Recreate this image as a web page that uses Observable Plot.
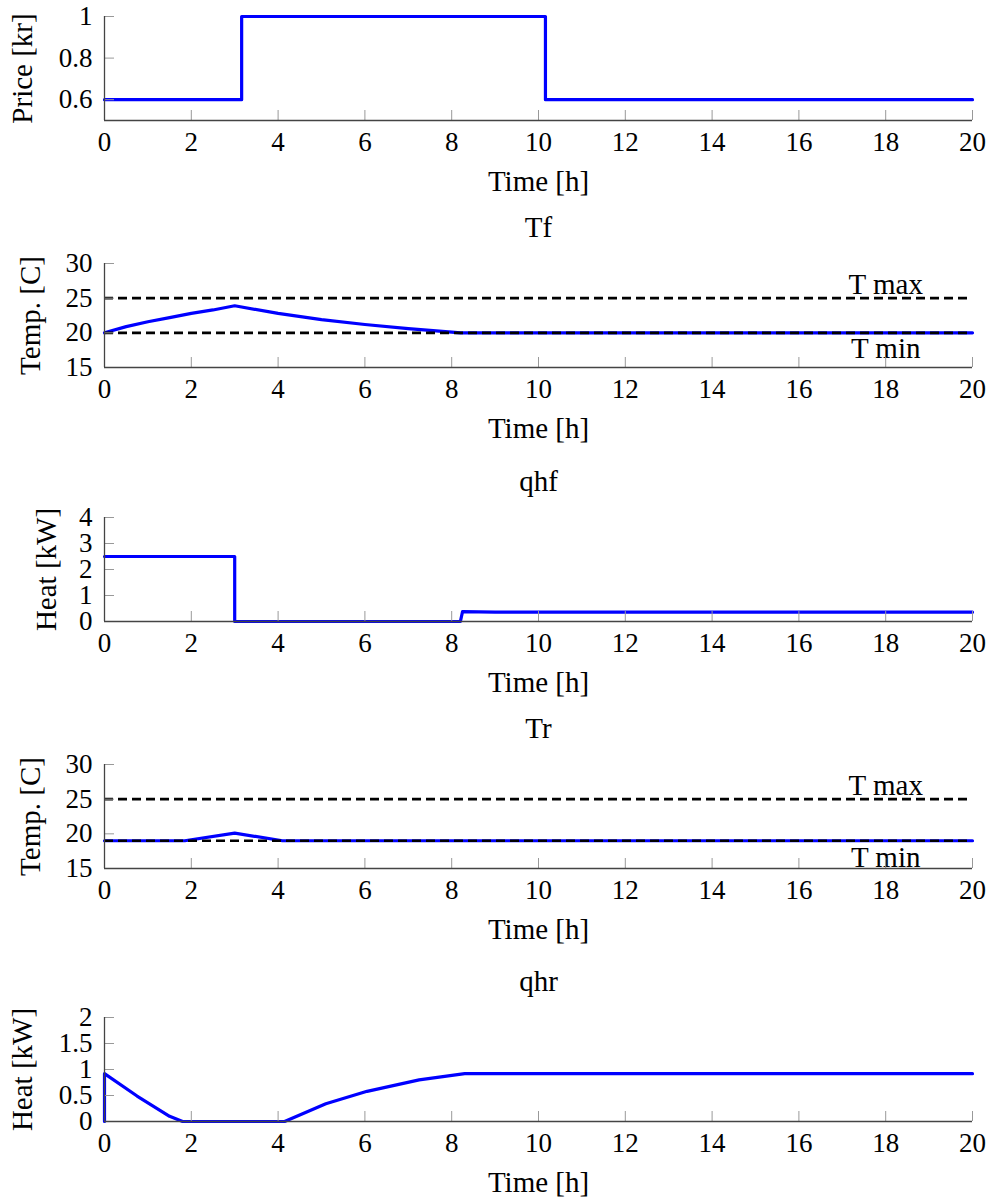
<!DOCTYPE html>
<html>
<head>
<meta charset="utf-8">
<script src="https://cdn.jsdelivr.net/npm/d3@7"></script>
<script src="https://cdn.jsdelivr.net/npm/@observablehq/plot@0.6"></script>
<style>
  html, body { margin: 0; padding: 0; background: #fff; }
  #chart { position: relative; width: 1000px; height: 1201px; background: #fff; }
  #chart > div { position: absolute; left: 0; }
</style>
</head>
<body>
<div id="chart"></div>
<script>
// ---- Data ----
const xTicks = [0, 2, 4, 6, 8, 10, 12, 14, 16, 18, 20];

const priceTime  = [0, 3.16, 10.16, 20];
const priceValue = [0.6, 1.0, 0.6, 0.6];
const priceTicks = [0.6, 0.8, 1];

const tfTime  = [0, 0.5, 1, 1.5, 2, 2.5, 3, 4, 5, 6, 7, 8, 8.2, 20];
const tfValue = [20, 20.9, 21.6, 22.2, 22.8, 23.3, 23.9, 22.8, 21.9, 21.2, 20.6, 20.1, 20, 20];
const tfMax = 25, tfMin = 20;

const qhfTime  = [0, 3, 3, 8.2, 8.25, 9, 20];
const qhfValue = [2.5, 2.5, 0, 0, 0.38, 0.36, 0.36];
const qhfTicks = [0, 1, 2, 3, 4];

const trTime  = [0, 1.85, 3, 4.1, 20];
const trValue = [19, 19, 20.1, 19, 19];
const trMax = 25, trMin = 19;

const qhrTime  = [0, 0, 0.75, 1.5, 1.8, 4.15, 5.1, 6.05, 7.25, 8.3, 20];
const qhrValue = [0, 0.92, 0.49, 0.1, 0, 0, 0.34, 0.58, 0.8, 0.92, 0.92];
const qhrTicks = [0, 0.5, 1, 1.5, 2];

const tempTicks = [15, 20, 25, 30];
const boundLabels = ["T max", "T min"];
const boundLabelTime = 18;

// ---- Layout ----
const W = 1000, ML = 104, MR = 28, PH = 104, MB = 80;
const FS = 27;      // tick labels
const LFS = 29;     // labels and titles
const FONT = "'Liberation Serif', 'DejaVu Serif', serif";
const BLUE = "#0000ff";

function panel({plotTop, title, yDomain, yTicks, yLabel, yLabelX, time, value, curve, bounds}) {
  const MT = title ? 46 : 16;
  const rows = time.map((t, i) => ({t, v: value[i]}));
  const marks = [];
  marks.push(Plot.line(rows, {x: "t", y: "v", stroke: BLUE, strokeWidth: 3.2, curve: curve || "linear"}));
  if (bounds) {
    marks.push(Plot.ruleY(bounds.map(b => b.v), {y: d => d, stroke: "black", strokeWidth: 2.6, strokeDasharray: "9,5"}));
    for (const b of bounds) {
      marks.push(Plot.text([b], {x: () => boundLabelTime, y: "v", text: "label", fontSize: LFS, fill: "black",
        lineAnchor: "middle", dy: b.dy}));
    }
  }
  // inward ticks
  marks.push(Plot.tickX(xTicks, {x: d => d, insetTop: PH - 10, stroke: "#999", strokeWidth: 1}));
  marks.push(Plot.tickY(yTicks, {y: d => d, insetRight: (W - ML - MR) - 10, stroke: "#999", strokeWidth: 1}));
  // axis lines
  marks.push(Plot.ruleX([0], {stroke: "#444", strokeWidth: 1.3}));
  marks.push(Plot.ruleY([yDomain[0]], {stroke: "#444", strokeWidth: 1.3}));
  // tick labels
  marks.push(Plot.axisX(xTicks, {tickSize: 0, tickPadding: 11, fontSize: FS, label: null, tickFormat: d => String(d)}));
  marks.push(Plot.axisY(yTicks, {tickSize: 0, tickPadding: 12, fontSize: FS, label: null, tickFormat: d => String(d)}));
  // axis labels
  marks.push(Plot.text(["Time [h]"], {text: d => d, frameAnchor: "bottom", dy: 61, lineAnchor: "middle", fontSize: LFS, fill: "black"}));
  marks.push(Plot.text([yLabel], {text: d => d, frameAnchor: "left", dx: yLabelX - ML, rotate: -90, lineAnchor: "middle", textAnchor: "middle", fontSize: LFS, fill: "black"}));
  if (title) {
    marks.push(Plot.text([title], {text: d => d, frameAnchor: "top", dy: -36, lineAnchor: "middle", fontSize: LFS, fill: "black"}));
  }
  const svg = Plot.plot({
    width: W,
    height: MT + PH + MB,
    marginLeft: ML,
    marginRight: MR,
    marginTop: MT,
    marginBottom: MB,
    style: {fontFamily: FONT, fontSize: FS + "px", color: "black", background: "transparent", overflow: "visible"},
    x: {domain: [0, 20], axis: null},
    y: {domain: yDomain, axis: null},
    marks
  });
  const wrap = document.createElement("div");
  wrap.style.top = (plotTop - MT) + "px";
  wrap.appendChild(svg);
  document.getElementById("chart").appendChild(wrap);
}

panel({plotTop: 16, title: null, yDomain: [0.5, 1], yTicks: priceTicks, yLabel: "Price [kr]", yLabelX: 22,
  time: priceTime, value: priceValue, curve: "step-after"});

panel({plotTop: 263, title: "Tf", yDomain: [15, 30], yTicks: tempTicks, yLabel: "Temp. [C]", yLabelX: 30,
  time: tfTime, value: tfValue,
  bounds: [{v: tfMax, label: boundLabels[0], dy: -13}, {v: tfMin, label: boundLabels[1], dy: 16}]});

panel({plotTop: 517, title: "qhf", yDomain: [0, 4], yTicks: qhfTicks, yLabel: "Heat [kW]", yLabelX: 46,
  time: qhfTime, value: qhfValue});

panel({plotTop: 764, title: "Tr", yDomain: [15, 30], yTicks: tempTicks, yLabel: "Temp. [C]", yLabelX: 30,
  time: trTime, value: trValue,
  bounds: [{v: trMax, label: boundLabels[0], dy: -13}, {v: trMin, label: boundLabels[1], dy: 17}]});

panel({plotTop: 1017, title: "qhr", yDomain: [0, 2], yTicks: qhrTicks, yLabel: "Heat [kW]", yLabelX: 22,
  time: qhrTime, value: qhrValue});
</script>
</body>
</html>
